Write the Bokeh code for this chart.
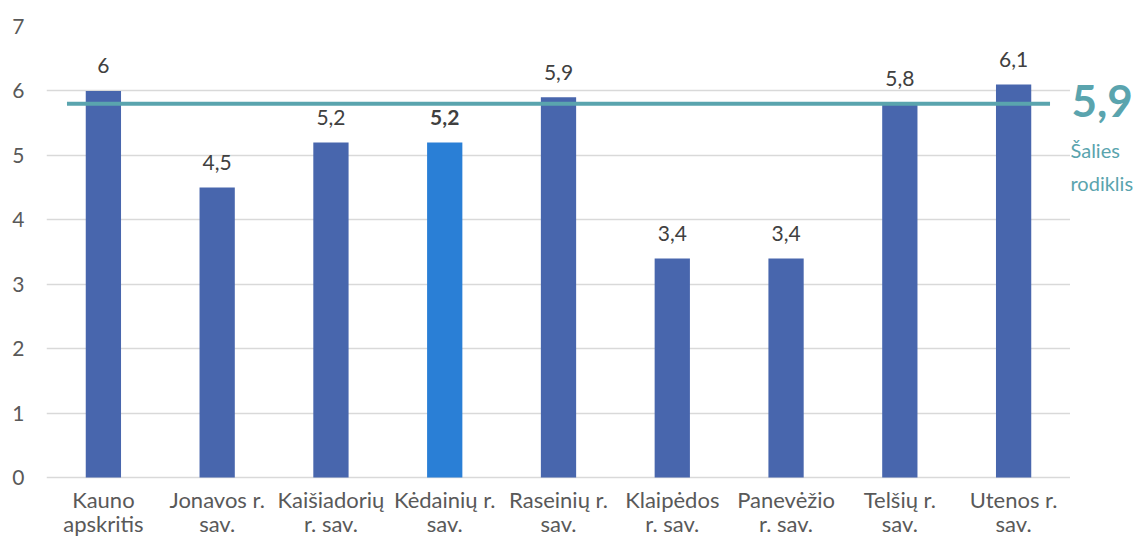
from bokeh.plotting import figure
from bokeh.layouts import row
from bokeh.models import ColumnDataSource, FixedTicker, Range1d
from bokeh.core.properties import value
from bokeh.embed import file_html
from bokeh.resources import INLINE

# ---- data ----
categories = ["Kauno\napskritis", "Jonavos r.\nsav.", "Kaišiadorių\nr. sav.",
              "Kėdainių r.\nsav.", "Raseinių r.\nsav.", "Klaipėdos\nr. sav.",
              "Panevėžio\nr. sav.", "Telšių r.\nsav.", "Utenos r.\nsav."]
values = [6, 4.5, 5.2, 5.2, 5.9, 3.4, 3.4, 5.8, 6.1]
value_labels = ["6", "4,5", "5,2", "5,2", "5,9", "3,4", "3,4", "5,8", "6,1"]
highlight = "Kėdainių r.\nsav."
national_level = 5.8          # where the national line is drawn
national_label = "5,9"
national_caption = ["Šalies", "rodiklis"]
y_ticks = [0, 1, 2, 3, 4, 5, 6, 7]

# ---- style / layout ----
FONT = "Lato"
BAR = "#4866AD"
HIGHLIGHT = "#2A7FD6"
TEAL = "#5AA4AE"
GRID = "#D9D9D9"
TOTAL_W, TOTAL_H = 1133, 539
SIDE_W = 63                 # panel to the right holding the national caption
LEFT = 46                   # space for the y axis
TOP = 26
PLOT_H = 451                # pixels from y=7 down to y=0
y_top = max(y_ticks)
y_bottom = -(TOTAL_H - TOP - PLOT_H) / PLOT_H * y_top   # room under 0 for category labels

colors = [HIGHLIGHT if c == highlight else BAR for c in categories]
styles = ["bold" if c == highlight else "normal" for c in categories]
src = ColumnDataSource(dict(x=categories, top=values, lbl=value_labels,
                            color=colors, style=styles,
                            zero=[0] * len(categories)))

yr = Range1d(y_bottom, y_top)
p = figure(x_range=categories, y_range=yr, width=TOTAL_W - SIDE_W, height=TOTAL_H,
           output_backend="svg", toolbar_location=None, x_axis_location=None,
           min_border_left=LEFT, min_border_right=0, min_border_top=TOP,
           min_border_bottom=0)
p.outline_line_color = None

p.vbar(x="x", top="top", width=0.31, color="color", line_color=None, source=src)

p.text(x="x", y="top", text="lbl", source=src, text_align="center",
       text_baseline="alphabetic", y_offset=-25, text_font=value(FONT),
       text_font_size="21px", text_color="#404040", text_font_style="style")

# category labels under the baseline
p.text(x="x", y="zero", text="x", source=src, text_align="center",
       text_baseline="top", y_offset=8, text_font=value(FONT),
       text_font_size="22px", text_color="#595959", text_line_height=0.92)

p.line(x=[(categories[0], -0.32), (categories[-1], 0.32)],
       y=[national_level, national_level], line_width=4, line_color=TEAL)

p.xgrid.grid_line_color = None
p.ygrid.grid_line_color = GRID
p.ygrid.grid_line_width = 1.5
p.yaxis.ticker = FixedTicker(ticks=y_ticks)
p.ygrid.ticker = FixedTicker(ticks=y_ticks)
p.yaxis.axis_line_color = None
p.yaxis.major_tick_line_color = None
p.yaxis.minor_tick_line_color = None
p.yaxis.major_tick_out = 0
p.yaxis.major_label_text_font = FONT
p.yaxis.major_label_text_color = "#595959"
p.yaxis.major_label_text_font_size = "21px"
p.yaxis.major_label_standoff = 22

# right-hand caption panel
side = figure(x_range=Range1d(0, 1), y_range=yr, width=SIDE_W, height=TOTAL_H,
              output_backend="svg", toolbar_location=None,
              x_axis_type=None, y_axis_type=None,
              min_border_left=0, min_border_right=0, min_border_top=TOP,
              min_border_bottom=0)
side.outline_line_color = None
side.xgrid.grid_line_color = None
side.ygrid.grid_line_color = None
side.text(x=[0], y=[national_level], text=[national_label], x_offset=1, y_offset=-3,
          text_baseline="middle", text_font=value(FONT), text_font_size="44px",
          text_font_style="bold", text_color=TEAL)
side.text(x=[0, 0], y=[national_level, national_level], text=national_caption,
          x_offset=0, y_offset=[46, 79], text_baseline="middle",
          text_font=value(FONT), text_font_size="20px", text_color=TEAL)

layout = row(p, side, spacing=0)
open("out.html", "w").write(file_html(layout, INLINE))
